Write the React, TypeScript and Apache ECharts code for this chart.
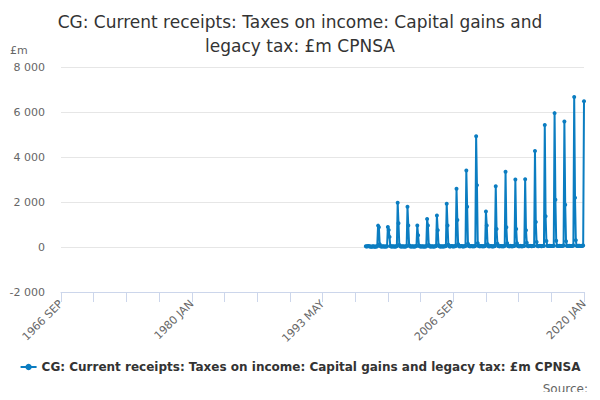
import React, { useEffect, useRef } from "react";
import * as echarts from "echarts";

const TITLE = "CG: Current receipts: Taxes on income: Capital gains and\nlegacy tax: £m CPNSA";
const SERIES_NAME = "CG: Current receipts: Taxes on income: Capital gains and legacy tax: £m CPNSA";
const MONTHS = ["JAN", "FEB", "MAR", "APR", "MAY", "JUN", "JUL", "AUG", "SEP", "OCT", "NOV", "DEC"];

// axis runs monthly from 1966 SEP to 2020 JAN
const START_YEAR = 1966;
const START_MONTH = 8;
const END_YEAR = 2020;
const END_MONTH = 0;

// first month with data: 1997 OCT
const FIRST_DATA = "1997 OCT";
const values1997 = [30, 20, 30];
const values1998 = [40, 30, 20, 20, 10, 20, 30, 20, 10, 20, 20, 30];
const values1999 = [950, 880, 120, 30, 20, 20, 30, 20, 20, 20, 20, 30];
const values2000 = [890, 760, 450, 40, 20, 20, 30, 20, 20, 20, 20, 40];
const values2001 = [1970, 1060, 90, 30, 20, 20, 30, 20, 20, 20, 20, 40];
const values2002 = [1790, 960, 80, 30, 20, 20, 30, 20, 20, 20, 30, 40];
const values2003 = [960, 520, 70, 30, 20, 20, 30, 20, 20, 20, 20, 30];
const values2004 = [1240, 960, 90, 30, 20, 20, 30, 20, 20, 20, 30, 40];
const values2005 = [1400, 750, 80, 30, 20, 20, 30, 20, 20, 30, 30, 40];
const values2006 = [1920, 960, 100, 30, 20, 30, 40, 30, 20, 30, 30, 40];
const values2007 = [2590, 1200, 120, 30, 30, 30, 40, 30, 20, 30, 30, 40];
const values2008 = [3400, 1790, 150, 40, 30, 30, 40, 30, 30, 30, 30, 50];
const values2009 = [4920, 2750, 170, 40, 30, 30, 40, 30, 30, 30, 30, 40];
const values2010 = [1580, 960, 120, 30, 30, 30, 40, 30, 20, 30, 30, 40];
const values2011 = [2700, 800, 150, 40, 30, 30, 40, 30, 30, 30, 30, 50];
const values2012 = [3340, 880, 170, 40, 30, 30, 50, 30, 30, 30, 40, 50];
const values2013 = [3000, 800, 170, 40, 30, 30, 50, 30, 30, 30, 40, 50];
const values2014 = [3010, 740, 190, 40, 30, 40, 50, 40, 30, 40, 40, 60];
const values2015 = [4270, 1110, 220, 40, 30, 40, 50, 40, 30, 40, 40, 60];
const values2016 = [5420, 1370, 270, 50, 40, 40, 60, 40, 40, 40, 40, 60];
const values2017 = [5950, 2100, 280, 50, 40, 40, 60, 40, 40, 40, 50, 70];
const values2018 = [5580, 1880, 260, 50, 40, 40, 60, 40, 40, 40, 50, 70];
const values2019 = [6670, 2190, 300, 50, 40, 50, 60, 50, 40, 50, 50, 70];
const values2020 = [6480];

const Y_MIN = -2000;
const Y_MAX = 8000;
const Y_STEP = 2000;

const categories: string[] = [];
for (let y = START_YEAR, m = START_MONTH; y < END_YEAR || (y === END_YEAR && m <= END_MONTH); ) {
  categories.push(y + " " + MONTHS[m]);
  m++;
  if (m > 11) {
    m = 0;
    y++;
  }
}

const observed = [
  ...values1997, ...values1998, ...values1999, ...values2000, ...values2001, ...values2002,
  ...values2003, ...values2004, ...values2005, ...values2006, ...values2007, ...values2008,
  ...values2009, ...values2010, ...values2011, ...values2012, ...values2013, ...values2014,
  ...values2015, ...values2016, ...values2017, ...values2018, ...values2019, ...values2020,
];
const firstIndex = categories.indexOf(FIRST_DATA);
const seriesData: (number | null)[] = categories.map((_, i) =>
  i < firstIndex ? null : observed[i - firstIndex] ?? null
);

const FONT = "DejaVu Sans";
const BLUE = "#0b7dc1";

const App: React.FC = () => {
  const chartRef = useRef<HTMLDivElement>(null);

  useEffect(() => {
    const chart = echarts.init(chartRef.current!, undefined, { renderer: "svg" });

    const options = {
      animation: false,
      backgroundColor: "#ffffff",
      textStyle: { fontFamily: FONT },
      title: {
        text: TITLE,
        left: "center",
        top: 5,
        textStyle: { fontFamily: FONT, fontSize: 17, fontWeight: "normal", color: "#333333", lineHeight: 24 },
      },
      grid: { left: 61, right: 16, top: 67, bottom: 108 },
      legend: {
        bottom: 22,
        left: "center",
        itemWidth: 16,
        itemHeight: 8,
        itemGap: 6,
        textStyle: { fontFamily: FONT, fontSize: 12, fontWeight: "bold", color: "#333333" },
        data: [SERIES_NAME],
      },
      graphic: [
        {
          type: "text",
          left: 10,
          top: 45,
          style: { text: "£m", fontFamily: FONT, fontSize: 11, fill: "#666666" },
        },
        {
          type: "text",
          right: 12,
          top: 383,
          style: { text: "Source:", fontFamily: FONT, fontSize: 12, fill: "#666666" },
        },
      ],
      xAxis: {
        type: "category",
        data: categories,
        boundaryGap: false,
        axisLine: { onZero: false, lineStyle: { color: "#ccd6eb", width: 1 } },
        axisTick: { show: true, interval: 39, length: 10, lineStyle: { color: "#ccd6eb" } },
        axisLabel: {
          interval: 159,
          rotate: 45,
          fontFamily: FONT,
          fontSize: 11,
          color: "#666666",
          margin: 10,
          showMaxLabel: true,
        },
        splitLine: { show: false },
      },
      yAxis: {
        type: "value",
        min: Y_MIN,
        max: Y_MAX,
        interval: Y_STEP,
        axisLine: { show: false },
        axisTick: { show: false },
        axisLabel: {
          fontFamily: FONT,
          fontSize: 11,
          color: "#666666",
          margin: 16,
          formatter: (v: number) => {
            const s = Math.abs(v).toString().replace(/\B(?=(\d{3})+(?!\d))/g, " ");
            return (v < 0 ? "-" : "") + s;
          },
        },
        splitLine: { lineStyle: { color: "#e6e6e6" } },
      },
      series: [
        {
          name: SERIES_NAME,
          type: "line",
          data: seriesData,
          color: BLUE,
          symbol: "circle",
          symbolSize: 4,
          showAllSymbol: true,
          lineStyle: { width: 2, color: BLUE },
          itemStyle: { color: BLUE },
        },
      ],
    };

    chart.setOption(options);

    return () => {
      chart.dispose();
    };
  }, []);

  return <div ref={chartRef} style={{ width: 600, height: 400, margin: -8 }}></div>;
};

export default App;
